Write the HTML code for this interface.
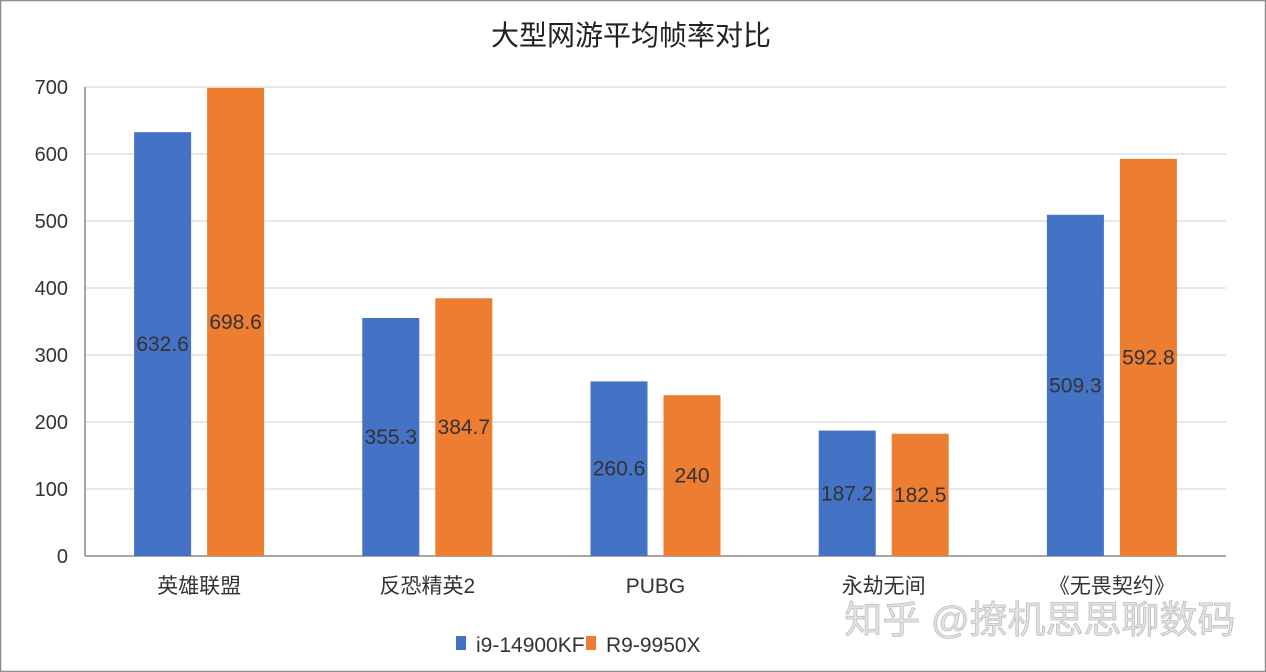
<!DOCTYPE html>
<html><head><meta charset="utf-8"><style>
html,body{margin:0;padding:0;background:#fff}
svg{display:block}
text{font-family:"Liberation Sans","Noto Sans CJK SC",sans-serif}
</style></head><body>
<svg id="chart" width="1266" height="672" viewBox="0 0 1266 672">
<rect x="0.5" y="0.5" width="1265" height="671" fill="#fff" stroke="#8c8c8c" stroke-width="1.5"/>
<text x="631" y="45" text-anchor="middle" font-size="28" fill="#222">大型网游平均帧率对比</text>
<g id="grid"></g><g id="bars"></g><g id="labels"></g>
<text x="1040" y="633" text-anchor="middle" font-size="38" fill="#e4e4e4" stroke="#bdbdbd" stroke-width="0.8">知乎 @撩机思思聊数码</text>
<g>
<rect x="456" y="636" width="10" height="14" fill="#4472c4"/>
<text x="476" y="652" font-size="21" fill="#333">i9-14900KF</text>
<rect x="586" y="636" width="10" height="14" fill="#ed7d31"/>
<text x="606" y="652" font-size="21" fill="#333">R9-9950X</text>
</g>
</svg>
<script>
const categories=["英雄联盟","反恐精英2","PUBG","永劫无间","《无畏契约》"];
const seriesA=[632.6,355.3,260.6,187.2,509.3];
const seriesB=[698.6,384.7,240,182.5,592.8];
const yTicks=[0,100,200,300,400,500,600,700];
const NS="http://www.w3.org/2000/svg";
const x0=85,x1=1226,y0=556,yTop=87,yMax=700;
const y=v=>y0-(v/yMax)*(y0-yTop);
const bandW=(x1-x0)/categories.length;
const cx=i=>x0+bandW*(i+0.5);
function mk(tag,attrs,parent){const e=document.createElementNS(NS,tag);for(const k in attrs)e.setAttribute(k,attrs[k]);document.getElementById(parent).appendChild(e);return e;}
yTicks.forEach(t=>{
 const l=mk('line',{x1:x0,x2:x1,y1:y(t),y2:y(t),stroke:t===0?'#888':'#d9d9d9','stroke-width':t===0?1.5:1.2},'grid');
 
 
 const tx=mk('text',{x:68,y:y(t)+7,'text-anchor':'end','font-size':20,fill:'#333'},'grid');
 tx.textContent=t;
 
 
});
const axis=mk('line',{x1:x0,x2:x0,y1:yTop,y2:y0,stroke:'#888','stroke-width':1.5},'grid');


const bw=57,gap=16;
categories.forEach((c,i)=>{
 [[seriesA,'#4472c4',-1],[seriesB,'#ed7d31',1]].forEach(([s,col,side])=>{
  const v=s[i];
  const bx=side<0?cx(i)-gap/2-bw:cx(i)+gap/2;
  const r=mk('rect',{x:bx,y:y(v),width:bw,height:y0-y(v),fill:col},'bars');
  
  
  const t=mk('text',{x:bx+bw/2,y:(y(v)+y0)/2+7,'text-anchor':'middle','font-size':21,fill:'#333'},'labels');
  t.textContent=v;
  
  
 });
 const ct=mk('text',{x:cx(i),y:593,'text-anchor':'middle','font-size':21,fill:'#333'},'labels');
 ct.textContent=c;
 
 
});
</script>
</body></html>
